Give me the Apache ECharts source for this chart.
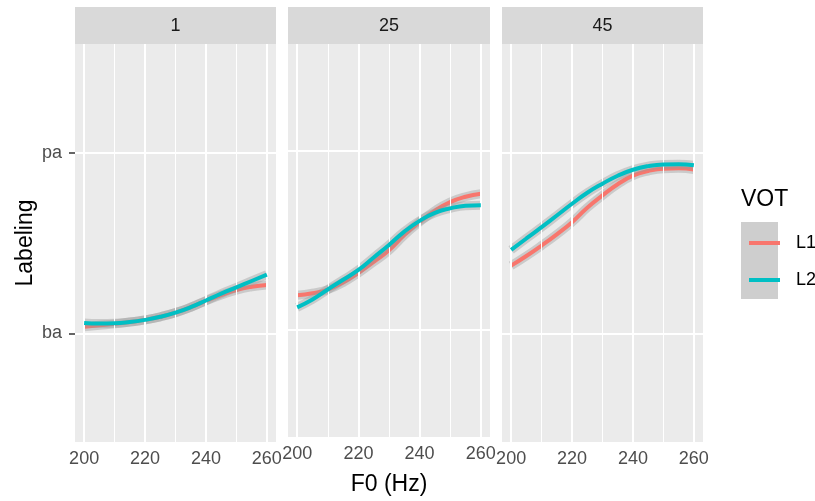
<!DOCTYPE html>
<html>
<head>
<meta charset="utf-8">
<script src="https://cdn.jsdelivr.net/npm/echarts@6/dist/echarts.min.js"></script>
<style>
  html, body { margin: 0; padding: 0; background: #fff; }
  #main { width: 815px; height: 501px; }
</style>
</head>
<body>
<div id="main"></div>
<script>
// facets (VOT step) and F0 steps
var panels = ['1', '25', '45'];
var f0 = [200, 205, 210, 215, 220, 225, 230, 235, 240, 245, 250, 255, 260];

// smoothed labeling curves, ba = 0, pa = 1
var l1Panel1 = [0.037, 0.045, 0.053, 0.063, 0.075, 0.092, 0.115, 0.145, 0.180, 0.212, 0.240, 0.258, 0.268];
var l2Panel1 = [0.058, 0.055, 0.056, 0.063, 0.075, 0.092, 0.115, 0.145, 0.182, 0.220, 0.255, 0.290, 0.325];
var l1Panel2 = [0.194, 0.205, 0.225, 0.265, 0.318, 0.380, 0.445, 0.530, 0.603, 0.667, 0.715, 0.745, 0.762];
var l2Panel2 = [0.126, 0.170, 0.226, 0.280, 0.335, 0.405, 0.475, 0.550, 0.610, 0.655, 0.680, 0.695, 0.698];
var l1Panel3 = [0.375, 0.428, 0.486, 0.548, 0.615, 0.695, 0.763, 0.825, 0.872, 0.898, 0.911, 0.913, 0.906];
var l2Panel3 = [0.462, 0.525, 0.588, 0.652, 0.717, 0.778, 0.828, 0.872, 0.905, 0.925, 0.934, 0.935, 0.930];

var xTicks = [200, 220, 240, 260];
var xMinor = [210, 230, 250];
var yTicks = [0, 1];
var yTickLabels = ['ba', 'pa'];

var l1 = [l1Panel1, l1Panel2, l1Panel3];
var l2 = [l2Panel1, l2Panel2, l2Panel3];

var FONT = '"Liberation Sans", Arial, sans-serif';
var gridLeft = [75, 288, 502];
var gridWidth = [201, 202, 201];

var chart = echarts.init(document.getElementById('main'));

function pairs(vals) {
    return f0.map(function (x, i) { return [x, vals[i]]; });
}

var grids = [], xAxes = [], yAxes = [], series = [], graphics = [];

panels.forEach(function (p, k) {
    grids.push({
        left: gridLeft[k], width: gridWidth[k], top: 44, height: 398,
        show: true, backgroundColor: '#EBEBEB', borderWidth: 0
    });
    xAxes.push({
        type: 'value', gridIndex: k, min: 197, max: 263,
        axisLine: { show: false },
        splitLine: { show: false },
        axisTick: { show: true, customValues: xTicks, length: 5, lineStyle: { color: '#333', width: 1.5 } },
        axisLabel: { customValues: xTicks, color: '#4D4D4D', fontSize: 18, fontFamily: FONT, margin: 8 },
        name: k === 1 ? 'F0 (Hz)' : '',
        nameLocation: 'middle', nameGap: 36,
        nameTextStyle: { color: '#000', fontSize: 23, fontFamily: FONT }
    });
    yAxes.push({
        type: 'value', gridIndex: k, min: -0.6, max: 1.6,
        axisLine: { show: false },
        splitLine: { show: false },
        axisTick: { show: k === 0, customValues: yTicks, length: 6, lineStyle: { color: '#333', width: 1.5 } },
        axisLabel: {
            show: k === 0, customValues: yTicks, color: '#4D4D4D', fontSize: 18, fontFamily: FONT, margin: 13,
            formatter: function (v) { return yTickLabels[yTicks.indexOf(Math.round(v))] || ''; }
        },
        name: k === 0 ? 'Labeling' : '',
        nameLocation: 'middle', nameGap: 38, nameRotate: 90,
        nameTextStyle: { color: '#000', fontSize: 23, fontFamily: FONT }
    });

    // panel grid lines
    var mk = [];
    xMinor.forEach(function (v) { mk.push({ xAxis: v, lineStyle: { width: 1 } }); });
    xTicks.forEach(function (v) { mk.push({ xAxis: v, lineStyle: { width: 2 } }); });
    yTicks.forEach(function (v) { mk.push({ yAxis: v, lineStyle: { width: 2 } }); });
    series.push({
        type: 'line', xAxisIndex: k, yAxisIndex: k, data: [], z: 1, silent: true,
        markLine: {
            silent: true, symbol: ['none', 'none'], label: { show: false }, animation: false,
            lineStyle: { color: '#FFFFFF', type: 'solid' },
            data: mk
        }
    });

    [[l1[k], '#F8766D', 'L1'], [l2[k], '#00BFC4', 'L2']].forEach(function (s, j) {
        // grey confidence ribbon
        series.push({
            type: 'line', name: 'band' + s[2], xAxisIndex: k, yAxisIndex: k,
            data: pairs(s[0]), smooth: true, showSymbol: false, silent: true, z: 2 + j * 2,
            lineStyle: { color: 'rgba(153,153,153,0.4)', width: 9 }
        });
        series.push({
            type: 'line', name: s[2], xAxisIndex: k, yAxisIndex: k,
            data: pairs(s[0]), smooth: true, showSymbol: false, z: 3 + j * 2,
            color: s[1],
            lineStyle: { color: s[1], width: 4 }
        });
    });

    // facet strip
    graphics.push({
        type: 'rect', shape: { x: gridLeft[k], y: 7, width: gridWidth[k], height: 37 },
        style: { fill: '#D9D9D9' }, silent: true
    });
    graphics.push({
        type: 'text', x: gridLeft[k] + gridWidth[k] / 2, y: 26,
        style: { text: p, fill: '#1A1A1A', font: '18px ' + FONT, textAlign: 'center', textVerticalAlign: 'middle' },
        silent: true
    });
});

// legend key background and title
graphics.push({
    type: 'rect', shape: { x: 741, y: 222, width: 37, height: 77 },
    style: { fill: '#CECECE' }, silent: true, z: -1
});
graphics.push({
    type: 'text', x: 741, y: 200,
    style: { text: 'VOT', fill: '#000', font: '23px ' + FONT, textAlign: 'left', textVerticalAlign: 'middle' },
    silent: true
});

var option = {
    animation: false,
    grid: grids,
    xAxis: xAxes,
    yAxis: yAxes,
    series: series,
    graphic: graphics,
    legend: {
        data: ['L1', 'L2'],
        orient: 'vertical',
        left: 744, top: 229,
        icon: 'rect', itemWidth: 31, itemHeight: 4, itemGap: 19,
        selectedMode: false,
        textStyle: { color: '#000', fontSize: 18, fontFamily: FONT, padding: [0, 0, 0, 11] }
    }
};
chart.setOption(option);
</script>
</body>
</html>
